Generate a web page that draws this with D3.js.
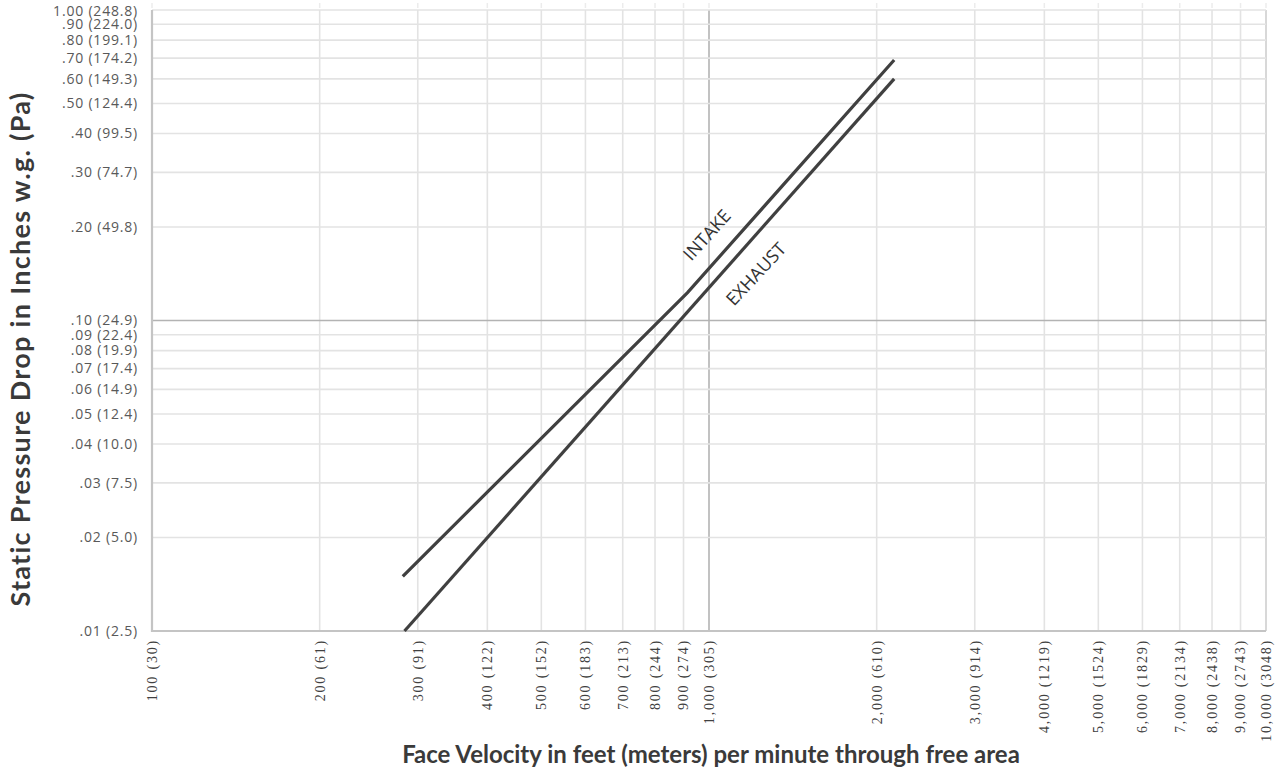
<!DOCTYPE html>
<html>
<head>
<meta charset="utf-8">
<script src="https://cdn.jsdelivr.net/npm/d3@7"></script>
<style>
  body { margin: 0; background: #fff; }
  .ylab { font-family: "Open Sans", sans-serif; font-size: 14px; fill: #595959; letter-spacing: 0.8px; }
  .xlab { font-family: "Liberation Serif", serif; font-size: 14px; fill: #404040; letter-spacing: 1.8px; }
  .title { font-family: Lato, sans-serif; font-weight: bold; font-size: 24px; fill: #3a3a3a; }
  .ytitle { font-size: 27px; letter-spacing: 1.3px; }
  .curveLab { font-family: "Open Sans", sans-serif; font-size: 18px; fill: #333; }
</style>
</head>
<body>
<div id="chart"></div>
<script>
// x ticks: face velocity fpm, with m/min in brackets
const xTicks = [100, 200, 300, 400, 500, 600, 700, 800, 900, 1000,
                2000, 3000, 4000, 5000, 6000, 7000, 8000, 9000, 10000];
const xMeters = [30, 61, 91, 122, 152, 183, 213, 244, 274, 305,
                 610, 914, 1219, 1524, 1829, 2134, 2438, 2743, 3048];

// y ticks: static pressure in. w.g., with Pa in brackets
const yTicks = [0.01, 0.02, 0.03, 0.04, 0.05, 0.06, 0.07, 0.08, 0.09, 0.10,
                0.20, 0.30, 0.40, 0.50, 0.60, 0.70, 0.80, 0.90, 1.00];
const yTickText = [".01 (2.5)", ".02 (5.0)", ".03 (7.5)", ".04 (10.0)", ".05 (12.4)", ".06 (14.9)",
                   ".07 (17.4)", ".08 (19.9)", ".09 (22.4)", ".10 (24.9)", ".20 (49.8)", ".30 (74.7)",
                   ".40 (99.5)", ".50 (124.4)", ".60 (149.3)", ".70 (174.2)", ".80 (199.1)", ".90 (224.0)",
                   "1.00 (248.8)"];

// curves (velocity, pressure)
const intakeV = [282, 915, 2150];
const intakeP = [0.015, 0.123, 0.69];
const exhaustV = [284, 2150];
const exhaustP = [0.010, 0.60];

const W = 1282, H = 771;
const pl = 152, pr = 1266, pt = 10, pb = 631;

const svg = d3.select("#chart").append("svg")
    .attr("width", W)
    .attr("height", H);

const x = d3.scaleLog().domain([100, 10000]).range([pl, pr]);
const y = d3.scaleLog().domain([0.01, 1]).range([pb, pt]);

// grid
svg.selectAll("line.vg")
    .data(xTicks)
    .enter()
    .append("line")
    .attr("x1", d => x(d)).attr("x2", d => x(d))
    .attr("y1", pt).attr("y2", pb)
    .attr("stroke", d => d === 1000 ? "#b3b3b3" : (d === 10000 ? "#cfcfcf" : "#e3e3e3"))
    .attr("stroke-width", 1.6);

svg.selectAll("line.hg")
    .data(yTicks)
    .enter()
    .append("line")
    .attr("y1", d => y(d)).attr("y2", d => y(d))
    .attr("x1", pl).attr("x2", pr)
    .attr("stroke", d => d === 0.1 ? "#b3b3b3" : "#e3e3e3")
    .attr("stroke-width", 1.6);

// small marks above the top edge
svg.selectAll("line.tm")
    .data(xTicks)
    .enter()
    .append("line")
    .attr("x1", d => x(d)).attr("x2", d => x(d))
    .attr("y1", 3).attr("y2", 8)
    .attr("stroke", "#ececec")
    .attr("stroke-width", 1.5);

// left + bottom frame
svg.append("path")
    .attr("d", `M${pl},${pt}V${pb}H${pr}`)
    .attr("fill", "none")
    .attr("stroke", "#c4c4c4")
    .attr("stroke-width", 2.2);

// y tick labels
svg.selectAll("text.ylab")
    .data(yTicks)
    .enter()
    .append("text")
    .attr("class", "ylab")
    .attr("x", 138)
    .attr("y", d => d === 1 ? y(d) + 1 : y(d))
    .attr("dy", "0.35em")
    .attr("text-anchor", "end")
    .text((d, i) => yTickText[i]);

// x tick labels (rotated)
svg.selectAll("text.xlab")
    .data(xTicks)
    .enter()
    .append("text")
    .attr("class", "xlab")
    .attr("transform", d => `translate(${x(d)},639) rotate(-90)`)
    .attr("dy", "0.35em")
    .attr("text-anchor", "end")
    .text((d, i) => d3.format(",")(d) + " (" + xMeters[i] + ")");

// curves
const line = d3.line().x(d => x(d[0])).y(d => y(d[1]));

svg.append("path")
    .datum(d3.zip(intakeV, intakeP))
    .attr("d", line)
    .attr("fill", "none")
    .attr("stroke", "#404040")
    .attr("stroke-width", 3.2);

svg.append("path")
    .datum(d3.zip(exhaustV, exhaustP))
    .attr("d", line)
    .attr("fill", "none")
    .attr("stroke", "#404040")
    .attr("stroke-width", 3.2);

svg.append("text")
    .attr("class", "curveLab")
    .attr("transform", "translate(707,235) rotate(-48)")
    .attr("text-anchor", "middle")
    .attr("dy", "0.35em")
    .text("INTAKE");

svg.append("text")
    .attr("class", "curveLab")
    .attr("transform", "translate(756,274) rotate(-47)")
    .attr("text-anchor", "middle")
    .attr("dy", "0.35em")
    .text("EXHAUST");

// axis titles
svg.append("text")
    .attr("class", "title")
    .attr("x", 711)
    .attr("y", 763)
    .attr("text-anchor", "middle")
    .text("Face Velocity in feet (meters) per minute through free area");

svg.append("text")
    .attr("class", "title ytitle")
    .attr("transform", "translate(30,349) rotate(-90)")
    .attr("text-anchor", "middle")
    .text("Static Pressure Drop in Inches w.g. (Pa)");
</script>
</body>
</html>
